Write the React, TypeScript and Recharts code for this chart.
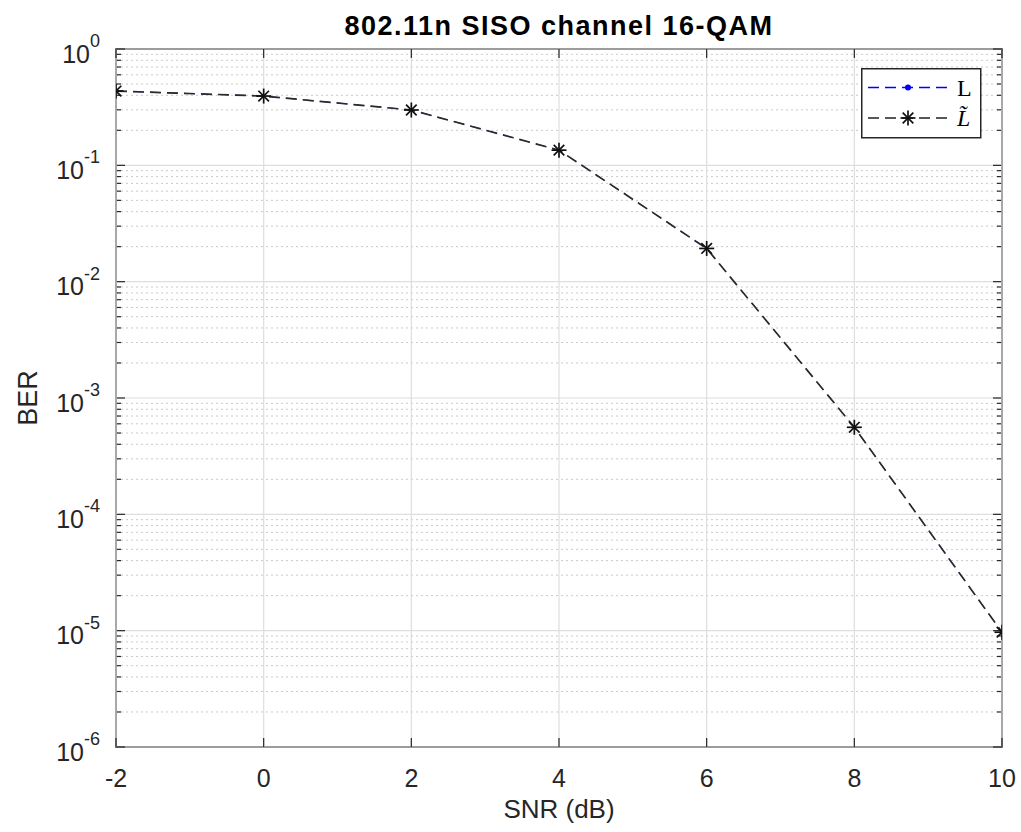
import React from "react";
import {
  LineChart,
  Line,
  XAxis,
  YAxis,
  ReferenceLine,
  ReferenceArea,
  Legend,
} from "recharts";

// ---- data ----
const SNR_DB = [-2, 0, 2, 4, 6, 8, 10];
const BER_L = [0.435, 0.394, 0.299, 0.135, 0.0193, 5.6e-4, 9.7e-6];
const BER_LTILDE = [0.435, 0.394, 0.299, 0.135, 0.0193, 5.6e-4, 9.7e-6];
const X_TICKS = [-2, 0, 2, 4, 6, 8, 10];
const Y_TICKS = [1e-6, 1e-5, 1e-4, 1e-3, 1e-2, 1e-1, 1];
const MINOR_MULTS = [2, 3, 4, 5, 6, 7, 8, 9];
const MINOR_DECADES = [1e-6, 1e-5, 1e-4, 1e-3, 1e-2, 1e-1];
const TITLE = "802.11n SISO channel 16-QAM";
const X_LABEL = "SNR (dB)";
const Y_LABEL = "BER";

const data = SNR_DB.map((s, i) => ({ snr: s, L: BER_L[i], Lt: BER_LTILDE[i] }));
const minorValues: number[] = [];
MINOR_DECADES.forEach((d) => MINOR_MULTS.forEach((m) => minorValues.push(m * d)));

const FONT = "'Liberation Sans', Arial, Helvetica, sans-serif";
const SERIF = "'Liberation Serif', 'DejaVu Serif', serif";
const AX = "#262626";
const MAJOR_GRID = "#dedede";
const MINOR_GRID = "#c9c9c9";

const XTick = (p: any) => (
  <text
    x={p.x}
    y={p.y + 40}
    textAnchor="middle"
    fontFamily={FONT}
    fontSize={25}
    fill={AX}
  >
    {p.payload.value}
  </text>
);

const YTick = (p: any) => {
  const e = Math.round(Math.log10(p.payload.value));
  return (
    <text x={p.x - 16} y={p.y} textAnchor="end" fontFamily={FONT} fill={AX}>
      <tspan dy={13.5} fontSize={25}>10</tspan>
      <tspan dy={-15.5} fontSize={18}>{e}</tspan>
    </text>
  );
};

const Star = (p: any) => {
  const { cx, cy } = p;
  if (cx == null || cy == null) return <g />;
  const r = 7.5;
  const d = 5.3;
  return (
    <g stroke="#111" strokeWidth={1.7}>
      <line x1={cx - r} y1={cy} x2={cx + r} y2={cy} />
      <line x1={cx} y1={cy - r} x2={cx} y2={cy + r} />
      <line x1={cx - d} y1={cy - d} x2={cx + d} y2={cy + d} />
      <line x1={cx - d} y1={cy + d} x2={cx + d} y2={cy - d} />
    </g>
  );
};

const BlueDot = (p: any) => {
  const { cx, cy } = p;
  if (cx == null || cy == null) return <g />;
  return <circle cx={cx} cy={cy} r={1.2} fill="#0000ff" />;
};

const hMinor = (p: any) => (
  <g>
    <line x1={p.x1} y1={p.y1} x2={p.x2} y2={p.y2} stroke={MINOR_GRID} strokeWidth={1} strokeDasharray="2 3" />
    <line x1={p.x1} y1={p.y1} x2={p.x1 + 5} y2={p.y1} stroke={AX} strokeWidth={1.2} />
    <line x1={p.x2} y1={p.y2} x2={p.x2 - 5} y2={p.y2} stroke={AX} strokeWidth={1.2} />
  </g>
);

const hMajor = (p: any) => (
  <g>
    <line x1={p.x1} y1={p.y1} x2={p.x2} y2={p.y2} stroke={MAJOR_GRID} strokeWidth={1.2} />
    <line x1={p.x1} y1={p.y1} x2={p.x1 + 9} y2={p.y1} stroke={AX} strokeWidth={1.2} />
    <line x1={p.x2} y1={p.y2} x2={p.x2 - 9} y2={p.y2} stroke={AX} strokeWidth={1.2} />
  </g>
);

const vMajor = (p: any) => {
  const top = Math.min(p.y1, p.y2);
  const bot = Math.max(p.y1, p.y2);
  return (
    <g>
      <line x1={p.x1} y1={p.y1} x2={p.x2} y2={p.y2} stroke={MAJOR_GRID} strokeWidth={1.2} />
      <line x1={p.x1} y1={bot} x2={p.x1} y2={bot - 9} stroke={AX} strokeWidth={1.2} />
      <line x1={p.x1} y1={top} x2={p.x1} y2={top + 9} stroke={AX} strokeWidth={1.2} />
    </g>
  );
};

const LegendBox = (props: any) => {
  const payload = props.payload || [];
  return (
    <svg width={121} height={71} style={{ display: "block" }}>
      <rect x={0.75} y={0.75} width={119} height={69} fill="#fff" stroke={AX} strokeWidth={1.5} />
      {payload.map((entry: any, i: number) => {
        const y = 19.5 + 30.5 * i;
        const isTilde = entry.dataKey === "Lt";
        return (
          <g key={i}>
            <line
              x1={7}
              y1={y}
              x2={87}
              y2={y}
              stroke={isTilde ? "#222" : "#0000ff"}
              strokeWidth={1.5}
              strokeDasharray="11 6"
            />
            {isTilde ? (
              <Star cx={47} cy={y} />
            ) : (
              <circle cx={47} cy={y} r={3} fill="#0000ff" />
            )}
            <text
              x={96}
              y={y + 8}
              fontFamily={SERIF}
              fontSize={24}
              fontStyle={isTilde ? "italic" : "normal"}
              fill="#000"
            >
              {isTilde ? "L\u0303" : "L"}
            </text>
          </g>
        );
      })}
    </svg>
  );
};

const TitleLabel = () => (
  <text
    x={559}
    y={35}
    textAnchor="middle"
    fontFamily={FONT}
    fontWeight="bold"
    fontSize={27}
    letterSpacing={1.5}
    fill="#000"
  >
    {TITLE}
  </text>
);

export default function App() {
  return (
    <div style={{ position: "absolute", left: 0, top: 0, width: 1021, height: 832, background: "#fff" }}>
      <LineChart
        width={1021}
        height={832}
        data={data}
        margin={{ top: 49, right: 19, bottom: 45, left: 56 }}
      >
        <XAxis
          dataKey="snr"
          type="number"
          domain={[-2, 10]}
          ticks={X_TICKS}
          interval={0}
          allowDataOverflow
          axisLine={false}
          tickLine={false}
          tickSize={0}
          tickMargin={0}
          height={40}
          tick={<XTick />}
          label={{
            content: () => (
              <text x={559} y={818} textAnchor="middle" fontFamily={FONT} fontSize={26} fill={AX}>
                {X_LABEL}
              </text>
            ),
          }}
        />
        <YAxis
          scale="log"
          type="number"
          domain={[1e-6, 1]}
          ticks={Y_TICKS}
          interval={0}
          allowDataOverflow
          axisLine={false}
          tickLine={false}
          tickSize={0}
          tickMargin={0}
          width={60}
          tick={<YTick />}
          label={{
            content: () => (
              <text
                x={37}
                y={398}
                transform="rotate(-90 37 398)"
                textAnchor="middle"
                fontFamily={FONT}
                fontSize={27}
                fill={AX}
              >
                {Y_LABEL}
              </text>
            ),
          }}
        />
        {minorValues.map((v) => (
          <ReferenceLine key={"m" + v} y={v} shape={hMinor} ifOverflow="visible" />
        ))}
        {Y_TICKS.map((v) => (
          <ReferenceLine key={"y" + v} y={v} shape={hMajor} ifOverflow="visible" />
        ))}
        {X_TICKS.map((v) => (
          <ReferenceLine key={"x" + v} x={v} shape={vMajor} ifOverflow="visible" />
        ))}
        <Line
          dataKey="L"
          name="L"
          stroke="#0000ff"
          strokeWidth={0.8}
          strokeDasharray="11 6"
          type="linear"
          dot={<BlueDot />}
          activeDot={false}
          isAnimationActive={false}
        />
        <Line
          dataKey="Lt"
          name="L~"
          stroke="#2a2a2a"
          strokeWidth={1.7}
          strokeDasharray="11 6"
          type="linear"
          dot={<Star />}
          activeDot={false}
          isAnimationActive={false}
        />
        <ReferenceArea
          x1={-2}
          x2={10}
          y1={1e-6}
          y2={1}
          fill="none"
          fillOpacity={0}
          stroke={AX}
          strokeWidth={1.5}
          ifOverflow="visible"
          label={{ content: () => <TitleLabel /> }}
        />
        <Legend
          layout="horizontal"
          verticalAlign="middle"
          align="center"
          content={<LegendBox />}
          wrapperStyle={{ position: "absolute", left: 861, top: 68, width: 121, height: 71 }}
        />
      </LineChart>
    </div>
  );
}
